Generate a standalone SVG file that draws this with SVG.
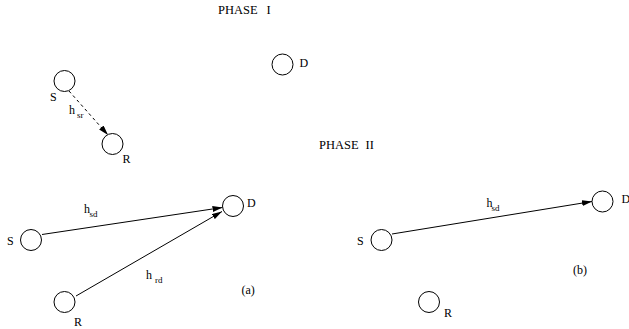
<svg xmlns="http://www.w3.org/2000/svg" width="629" height="329" viewBox="0 0 629 329">
<style>
text{font-family:"Liberation Serif","Times New Roman",serif;font-size:12px;fill:#000}
.sub{font-size:9px}
.n{fill:#fff;stroke:#000;stroke-width:1}
.c{stroke:#000;stroke-width:1;fill:none}
</style>
<defs>
<marker id="ah" viewBox="0 0 10 6" refX="10" refY="3" markerWidth="10" markerHeight="6" markerUnits="userSpaceOnUse" orient="auto">
<path d="M0,0 L10,3 L0,6 Z" fill="#000"/>
</marker>
</defs>
<rect width="629" height="329" fill="#fff"/>
<text x="218" y="14" style="font-size:12.5px">PHASE<tspan x="266.5">I</tspan></text>
<text x="319" y="148.5" style="font-size:12.5px">PHASE<tspan x="365.5">II</tspan></text>
<g id="connectors">
<line class="c" x1="69" y1="91" x2="108" y2="135" stroke-dasharray="3,3" marker-end="url(#ah)"/>
<line class="c" x1="42" y1="234.5" x2="222.5" y2="207.5" marker-end="url(#ah)"/>
<line class="c" x1="76" y1="296" x2="222" y2="211.5" marker-end="url(#ah)"/>
<line class="c" x1="392" y1="234" x2="592" y2="201.5" marker-end="url(#ah)"/>
</g>
<g id="p1-S"><circle class="n" cx="64.5" cy="81" r="10.5"/><text x="50" y="101">S</text></g>
<g id="p1-R"><circle class="n" cx="112.5" cy="144" r="10.5"/><text x="122.5" y="162.5">R</text></g>
<g id="p1-D"><circle class="n" cx="282.5" cy="64.5" r="10.5"/><text x="299.5" y="67">D</text></g>
<text x="69" y="113.5">h<tspan class="sub" x="77" y="118">sr</tspan></text>
<g id="a-S"><circle class="n" cx="31" cy="240" r="10.5"/><text x="7" y="245">S</text></g>
<g id="a-R"><circle class="n" cx="64.5" cy="302" r="10.5"/><text x="74" y="326">R</text></g>
<g id="a-D"><circle class="n" cx="233" cy="206" r="10.5"/><text x="247" y="206.5">D</text></g>
<text x="84" y="213">h<tspan class="sub" x="89.5" y="216.5">sd</tspan></text>
<text x="146" y="278.5">h<tspan class="sub" x="155" y="282.5">rd</tspan></text>
<text x="241.5" y="294">(a)</text>
<g id="b-S"><circle class="n" cx="381.5" cy="240" r="10.5"/><text x="357" y="245">S</text></g>
<g id="b-R"><circle class="n" cx="429" cy="302" r="10.5"/><text x="444" y="316.5">R</text></g>
<g id="b-D"><circle class="n" cx="602.5" cy="201.5" r="10.5"/><text x="621.5" y="203">D</text></g>
<text x="486.5" y="206.5">h<tspan class="sub" x="491.5" y="210.5">sd</tspan></text>
<text x="573" y="274">(b)</text>
</svg>
